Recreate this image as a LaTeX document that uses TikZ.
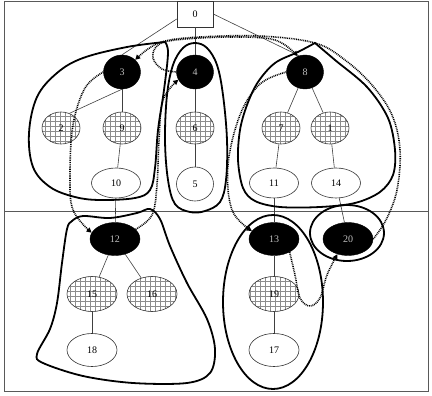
\documentclass[tikz,border=0pt]{standalone}
\usepackage{fontspec}
\setmainfont{Liberation Serif}
\usetikzlibrary{shapes.geometric,patterns,arrows.meta,calc}
\pgfdeclarepatternformonly{mygrid}{\pgfqpoint{-1pt}{-1pt}}{\pgfqpoint{6pt}{6pt}}{\pgfqpoint{5pt}{5pt}}{%
  \pgfsetlinewidth{0.7pt}%
  \pgfpathmoveto{\pgfqpoint{0pt}{0pt}}\pgfpathlineto{\pgfqpoint{5.1pt}{0pt}}%
  \pgfpathmoveto{\pgfqpoint{0pt}{0pt}}\pgfpathlineto{\pgfqpoint{0pt}{5.1pt}}%
  \pgfusepath{stroke}}
\begin{document}
\begin{tikzpicture}[x=1pt,y=-1pt,
  every node/.style={font=\fontsize{10}{11}\selectfont, inner sep=0pt},
  blk/.style={ellipse, fill=black, draw=black, text=gray!50},
  hat/.style={ellipse, draw=black!80, pattern=mygrid, pattern color=black!45, line width=0.6pt},
  wht/.style={ellipse, draw=black!80, fill=white, line width=0.6pt},
  sm/.style={minimum width=37pt, minimum height=34pt},
  md/.style={minimum width=38pt, minimum height=32pt},
  lg/.style={minimum width=50pt, minimum height=33pt},
  ed/.style={line width=0.6pt, black!75},
  loopline/.style={line width=1.8pt, black, line join=miter},
  dots/.style={line width=1.6pt, dash pattern=on 0.9pt off 0.9pt, -{Triangle[length=5pt,width=5pt]}},
  frame/.style={line width=0.8pt, black!65}]
\useasboundingbox (0,0) rectangle (432,396);
\draw[frame] (4,1) rectangle (428,391);
\draw[frame] (4,211) -- (428,211);

% nodes
\node[draw=black!80, fill=white, minimum width=36pt, minimum height=26pt, line width=0.6pt] (n0) at (195,14) {0};
\node[blk, sm] (n3) at (122,72) {3};
\node[blk, sm] (n4) at (195,72) {4};
\node[blk, sm] (n8) at (305,72) {8};
\node[hat, md] (n2) at (61,128) {2};
\node[hat, md] (n9) at (122,128) {9};
\node[hat, md] (n6) at (195,128) {6};
\node[hat, md] (n7) at (281,128) {7};
\node[hat, md] (n1) at (330,128) {1};
\node[wht, minimum width=49pt, minimum height=30pt] (n10) at (116,183) {10};
\node[wht, minimum width=37pt, minimum height=34pt] (n5) at (195,184) {5};
\node[wht, minimum width=49pt, minimum height=30pt] (n11) at (274,183) {11};
\node[wht, minimum width=49pt, minimum height=30pt] (n14) at (336,183) {14};
\node[blk, lg] (n12) at (115,239) {12};
\node[blk, lg] (n13) at (274,239) {13};
\node[blk, lg] (n20) at (348,239) {20};
\node[hat, minimum width=50pt, minimum height=35pt] (n15) at (92,294) {15};
\node[hat, minimum width=50pt, minimum height=35pt] (n16) at (152,294) {16};
\node[hat, minimum width=50pt, minimum height=35pt] (n19) at (274,294) {19};
\node[wht, lg] (n18) at (92,350) {18};
\node[wht, lg] (n17) at (274,350) {17};

% tree edges
\draw[ed] ([yshift=-5pt]n0.west) -- (n3.north);
\draw[ed] (n0) -- (n4);
\draw[ed] (n0.east) -- (n8.110);
\draw[ed] (n3.south) -- (n2.60);
\draw[ed] (n3) -- (n9);
\draw[ed] (n9) -- (n10);
\draw[ed] (n4) -- (n6);
\draw[ed] (n6) -- (n5);
\draw[ed] (n8) -- (n7);
\draw[ed] (n8) -- (n1);
\draw[ed] (n7) -- (n11);
\draw[ed] (n1) -- (n14);
\draw[ed] (n10) -- (n12);
\draw[ed] (n11) -- (n13);
\draw[ed] (n14) -- (n20);
\draw[ed] (n12) -- (n15);
\draw[ed] (n12) -- (n16);
\draw[ed] (n15) -- (n18);
\draw[ed] (n13) -- (n19);
\draw[ed] (n19) -- (n17);

% solid group outlines
\draw[loopline] plot[smooth, tension=0.6] coordinates {
  (165,42) (168,53) (164,90) (158,130) (155,168) (150,190) (135,198) (100,200)
  (75,197) (50,187) (33,167) (29,133) (37,97) (57,73) (83,58) (127,47) (165,42)} -- cycle;
\draw[loopline] plot[smooth cycle, tension=0.6] coordinates {
  (195,43) (207,48) (217,65) (223,95) (227,140) (226,180) (220,202) (205,211)
  (190,212) (175,204) (168,180) (165,140) (167,95) (173,65) (183,48)};
\draw[loopline] plot[smooth, tension=0.55] coordinates {
  (315,43) (335,60) (367,87) (388,118) (395,150) (393,175) (380,192) (355,203)
  (320,207) (280,207) (255,201) (243,188) (238,160) (240,130) (247,105) (258,82)
  (275,63) (298,52) (315,43)} -- cycle;
\draw[loopline] plot[smooth cycle, tension=0.55] coordinates {
  (72,221) (83,216) (110,218) (137,213) (150,209) (160,219) (170,246) (187,283)
  (207,319) (215,349) (210,373) (187,383) (133,383) (83,376) (43,363) (37,354)
  (50,329) (57,303) (62,263) (67,229)};
\draw[loopline] (273,302) ellipse [x radius=50, y radius=87];
\draw[loopline] (347,233) ellipse [x radius=37, y radius=28];

% dotted migration arrows
\draw[dots] plot[smooth, tension=0.6] coordinates {
  (n20.east) (386,220) (397,190) (400,150) (392,115) (372,85) (345,60) (315,43)
  (260,36) (200,37) (165,41) (148,49) (n3.north east)};
\draw[dots] plot[smooth, tension=0.6] coordinates {
  (n4.west) (162,69) (153,58) (157,46) (175,40) (230,37) (275,40) (n8.115)};
\draw[dots] plot[smooth, tension=0.6] coordinates {
  (n12.25) (152,215) (157,185) (159,140) (163,100) (n4.205)};
\draw[dots] plot[smooth, tension=0.6] coordinates {
  (n3.west) (85,88) (73,125) (70,175) (73,210) (n12.165)};
\draw[dots] plot[smooth, tension=0.6] coordinates {
  (n8.west) (260,84) (240,115) (228,165) (232,210) (n13.160)};
\draw[dots] plot[smooth, tension=0.6] coordinates {
  (n13.-40) (295,275) (300,298) (310,306) (320,298) (327,275) (n20.235)};
\end{tikzpicture}
\end{document}
